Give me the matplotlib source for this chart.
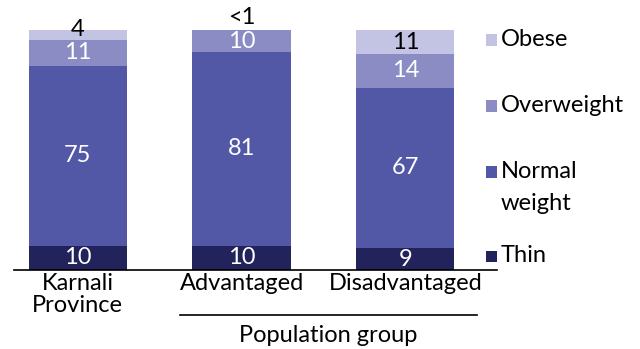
import matplotlib
matplotlib.use("Agg")
import matplotlib.pyplot as plt
from matplotlib.patches import Rectangle
from matplotlib.lines import Line2D

plt.rcParams['font.family'] = ['Lato', 'DejaVu Sans']

categories = ['Karnali\nProvince', 'Advantaged', 'Disadvantaged']
legend_labels = ['Thin', 'Normal\nweight', 'Overweight', 'Obese']
thin = [10, 10, 9]
normal = [75, 81, 67]
overweight = [11, 10, 14]
obese = [4, 0.5, 11]
labels = [['10', '10', '9'], ['75', '81', '67'], ['11', '10', '14'], ['4', '<1', '11']]
colors = ['#22235a', '#5257a6', '#8b8cc4', '#c3c4e3']
text_colors = ['white', 'white', 'white', 'black']
FS = 17

W, H = 640, 349
fig = plt.figure(figsize=(W / 100, H / 100), dpi=100)
ax = fig.add_axes([14 / W, (H - 270) / H, (497 - 14) / W, 240 / H])

data = [thin, normal, overweight, obese]
x = list(range(len(categories)))
bottom = [0.0] * len(categories)
for i, vals in enumerate(data):
    ax.bar(x, vals, width=0.6, bottom=bottom, color=colors[i], linewidth=0)
    for j, p in enumerate(vals):
        if p < 2:
            # tiny segment: label sits above the bar
            ax.text(x[j], 102.4, labels[i][j], ha='center', va='baseline',
                    color='black', fontsize=FS)
        elif p < 5:
            ax.text(x[j], bottom[j] + p, labels[i][j], ha='center', va='center',
                    color='black', fontsize=FS)
        else:
            top = min(bottom[j] + p, 100)
            mid = (bottom[j] + top) / 2 - (0.4 if top < bottom[j] + p else 0)
            ax.text(x[j], mid, labels[i][j], ha='center', va='center',
                    color=text_colors[i], fontsize=FS)
    bottom = [b + p for b, p in zip(bottom, vals)]

ax.set_ylim(0, 100)
ax.set_xlim(-0.39, 2.56)
for s in ['top', 'right', 'left']:
    ax.spines[s].set_visible(False)
ax.spines['bottom'].set_linewidth(1.2)
ax.set_yticks([])
ax.set_xticks(x)
ax.set_xticklabels(categories, fontsize=FS, linespacing=1.05)
ax.tick_params(axis='x', length=0, pad=2)

# group bracket
fig.add_artist(Line2D([180 / W, 477 / W], [(H - 315) / H] * 2, color='black', linewidth=1.2))
fig.text(328 / W, (H - 335) / H, 'Population group', ha='center', va='center', fontsize=FS)

# legend
leg_y = [256, 172, 106, 40]
for i, lab in enumerate(legend_labels):
    y = leg_y[i]
    fig.add_artist(Rectangle((486 / W, (H - y - 5.5) / H), 11 / W, 11 / H,
                             facecolor=colors[i], edgecolor='none'))
    for k, line in enumerate(lab.split('\n')):
        fig.text(501 / W, (H - y - 31 * k) / H, line, ha='left', va='center', fontsize=FS)

fig.savefig('out.png', dpi=100)
